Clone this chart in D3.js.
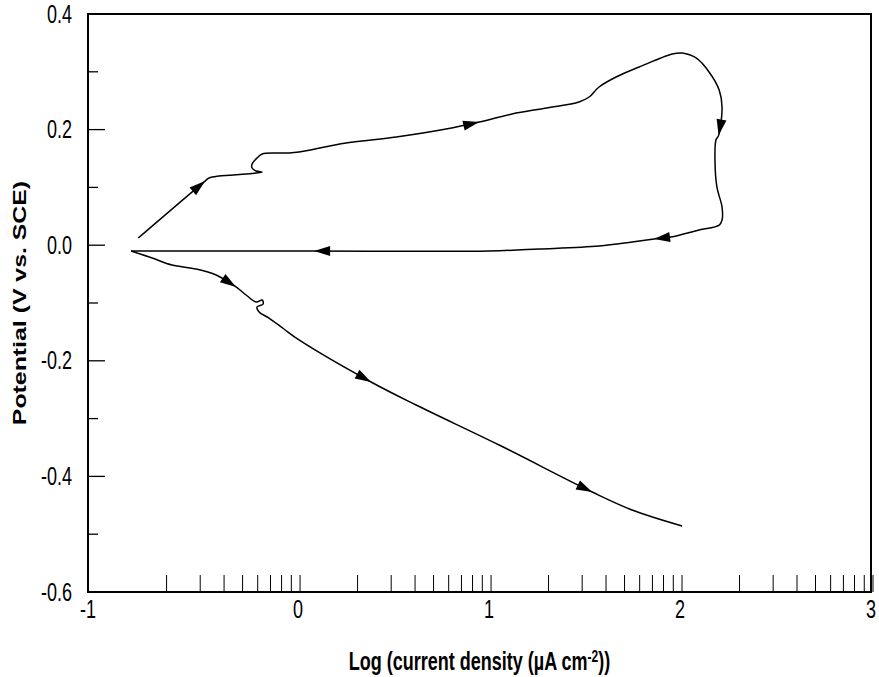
<!DOCTYPE html>
<html>
<head>
<meta charset="utf-8">
<script src="https://cdn.jsdelivr.net/npm/d3@7"></script>
<style>
  body { margin: 0; background: #fff; }
  text { font-family: "Liberation Sans", Arial, sans-serif; }
</style>
</head>
<body>
<svg id="chart" width="879" height="677"></svg>
<script>
// anodic loop: forward scan up, then reverse scan back to the left
const loopX = [-0.837, -0.487, -0.466, -0.414, -0.272, -0.220, -0.188, -0.220, -0.241, -0.241, -0.215, -0.188,
  -0.115, -0.047, 0.005, 0.251, 0.514, 0.775, 0.948, 1.120, 1.299, 1.471, 1.524, 1.576, 1.665, 1.786, 1.959,
  2.011, 2.084, 2.152, 2.205, 2.220, 2.202, 2.188, 2.183, 2.193, 2.220, 2.220, 2.205, 2.099, 1.952, 1.864,
  1.749, 1.576, 1.262, 1.000, 0.084, -0.874];
const loopY = [0.0125, 0.111, 0.1163, 0.1197, 0.1232, 0.1249, 0.1266, 0.1284, 0.1336, 0.1405, 0.1509, 0.1578,
  0.1595, 0.1595, 0.1612, 0.1768, 0.1872, 0.2010, 0.2131, 0.2270, 0.2374, 0.2478, 0.2564, 0.2737, 0.2910, 0.3083, 0.3308,
  0.3325, 0.3239, 0.2997, 0.2685, 0.2391, 0.190, 0.1820, 0.1474, 0.1007, 0.0661, 0.0436, 0.0349, 0.0263, 0.0142, 0.0107,
  0.0055, -0.0014, -0.0066, -0.0100, -0.0100, -0.0100];
const loopArrows = [1, 18, 32, 41, 46];

// cathodic branch
const cathX = [-0.874, -0.764, -0.660, -0.534, -0.429, -0.325, -0.272, -0.220, -0.188, -0.183, -0.215, -0.204,
  -0.152, -0.074, 0.005, 0.382, 0.618, 1.053, 1.540, 1.749, 2.011];
const cathY = [-0.0100, -0.0221, -0.0343, -0.0412, -0.0516, -0.0723, -0.0862, -0.0983, -0.0948, -0.1017, -0.1069, -0.1156,
  -0.1260, -0.1450, -0.1640, -0.2367, -0.2765, -0.3457, -0.4270, -0.4581, -0.4858];
const cathArrows = [5, 15, 18];

const xTickLabels = ["-1", "0", "1", "2", "3"];
const xTickValues = [-1.1, 0, 1, 2, 3];
const yTickLabels = [-0.6, -0.4, -0.2, 0.0, 0.2, 0.4];
const yMinor = [-0.5, -0.3, -0.1, 0.1, 0.3];

const margin = {top: 14, right: 8, bottom: 85, left: 88},
  width = 879 - margin.left - margin.right,
  height = 677 - margin.top - margin.bottom;

// the source figure text is stretched vertically
const stretch = 1.38;

const svg = d3.select("#chart");
const g = svg.append("g")
  .attr("transform", `translate(${margin.left}, ${margin.top})`);

const x = d3.scaleLinear().domain([-1.1, 3]).range([0, width]);
const y = d3.scaleLinear().domain([-0.6, 0.4]).range([height, 0]);

// log style minor ticks along the bottom
let xMinor = [];
for (let d = -1; d < 3; d++) {
  for (let k = 2; k <= 10; k++) xMinor.push(d + Math.log10(k));
}
g.selectAll(".xt").data(xMinor).join("line")
  .attr("x1", d => x(d) + 2).attr("x2", d => x(d) + 2)
  .attr("y1", height).attr("y2", height - 17)
  .attr("stroke", "#000").attr("stroke-width", 1);

g.selectAll(".ymaj").data(yTickLabels).join("line")
  .attr("x1", 0).attr("x2", 17)
  .attr("y1", d => y(d)).attr("y2", d => y(d))
  .attr("stroke", "#000").attr("stroke-width", 1.3);
g.selectAll(".ymin").data(yMinor).join("line")
  .attr("x1", 0).attr("x2", 10)
  .attr("y1", d => y(d)).attr("y2", d => y(d))
  .attr("stroke", "#000").attr("stroke-width", 1.3);

// tick labels
g.selectAll(".xl").data(xTickValues).join("text")
  .attr("transform", d => `translate(${x(d)},${height + 26}) scale(1,${stretch})`)
  .attr("text-anchor", "middle")
  .style("font-size", "18px")
  .text((d, i) => xTickLabels[i]);
g.selectAll(".yl").data(yTickLabels).join("text")
  .attr("transform", d => `translate(-16,${y(d) + 8.5}) scale(1,${stretch})`)
  .attr("text-anchor", "end")
  .style("font-size", "18px")
  .text(d => d3.format(".1f")(d).replace("\u2212", "-"));

// frame
g.append("rect")
  .attr("width", width).attr("height", height)
  .attr("fill", "none").attr("stroke", "#000").attr("stroke-width", 2);

const line = d3.line()
  .x(d => x(d[0])).y(d => y(d[1]))
  .curve(d3.curveCatmullRom.alpha(0.5));

function drawSeries(xs, ys, arrows) {
  const pts = xs.map((v, i) => [v, ys[i]]);
  g.append("path").datum(pts)
    .attr("d", line)
    .attr("fill", "none").attr("stroke", "#000").attr("stroke-width", 1.5);

  g.selectAll(null).data(arrows).join("path")
    .attr("d", "M0,0 L-16,-5 L-16,5 Z")
    .attr("fill", "#000")
    .attr("transform", i => {
      const a = pts[Math.max(i - 1, 0)], b = pts[Math.min(i + 1, pts.length - 1)];
      const ang = Math.atan2(y(b[1]) - y(a[1]), x(b[0]) - x(a[0])) * 180 / Math.PI;
      return `translate(${x(pts[i][0])},${y(pts[i][1])}) rotate(${ang})`;
    });
}

drawSeries(loopX, loopY, loopArrows);
drawSeries(cathX, cathY, cathArrows);

// axis titles
const xt = svg.append("text")
  .attr("transform", `translate(${margin.left + width / 2},670) scale(1,${stretch})`)
  .attr("text-anchor", "middle")
  .style("font-size", "18px").style("font-weight", "bold");
xt.append("tspan").text("Log (current density (µA cm");
xt.append("tspan").attr("dy", -6).style("font-size", "12px").text("-2");
xt.append("tspan").attr("dy", 6).text("))");

svg.append("text")
  .attr("transform", `translate(26, ${margin.top + height / 2}) rotate(-90) scale(${stretch},1)`)
  .attr("text-anchor", "middle")
  .style("font-size", "18px").style("font-weight", "bold")
  .text("Potential (V vs. SCE)");
</script>
</body>
</html>
